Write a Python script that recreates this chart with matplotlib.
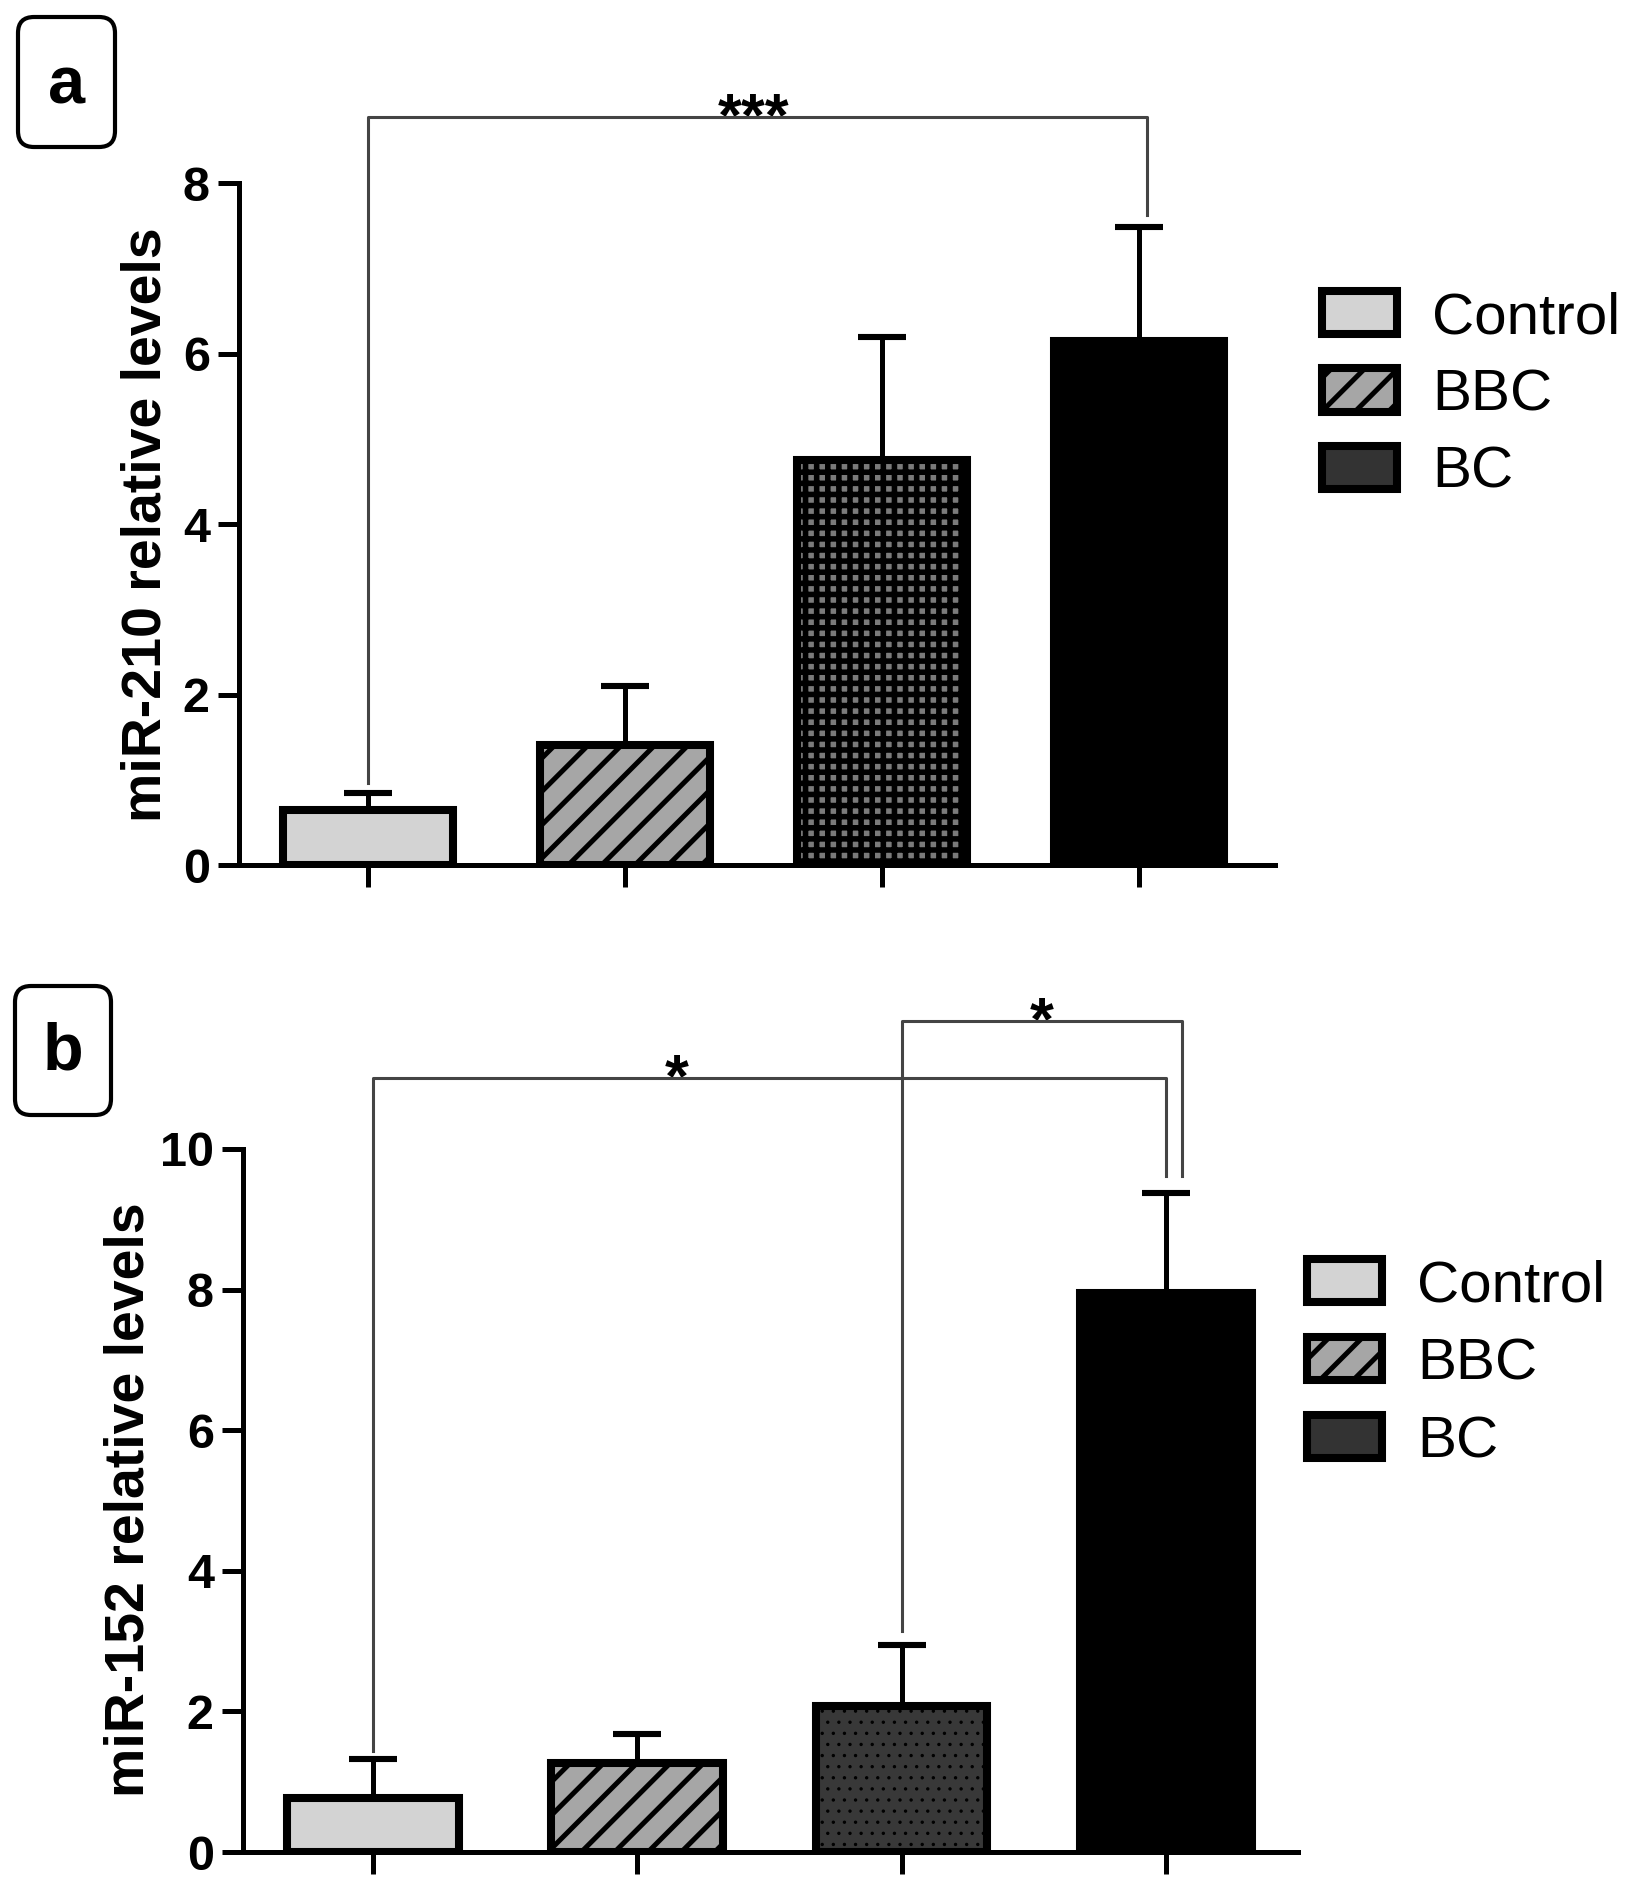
import matplotlib
matplotlib.use('Agg')
import matplotlib.pyplot as plt
from matplotlib.patches import Patch, FancyBboxPatch
import numpy as np

plt.rcParams['font.family'] = ['Liberation Sans', 'DejaVu Sans']
plt.rcParams['hatch.linewidth'] = 1.8

# ---------------- data ----------------
bar_groups = ['Control', 'BBC', 'Group 3', 'BC']
legend_labels = ['Control', 'BBC', 'BC']

mir210_mean = [0.64, 1.41, 4.75, 6.15]
mir210_sd = [0.21, 0.69, 1.44, 1.33]
mir152_mean = [0.77, 1.27, 2.08, 7.95]
mir152_sd = [0.56, 0.41, 0.86, 1.43]

yticks_a = [0, 2, 4, 6, 8]
yticks_b = [0, 2, 4, 6, 8, 10]

ylabel_a = 'miR-210 relative levels'
ylabel_b = 'miR-152 relative levels'

# significance brackets: (left x, left leg bottom, right x, right leg bottom, bracket y, star x, text)
sig_a = [(0, 0.96, 3.03, 7.63, 8.77, 1.5, '***')]
sig_b = [(0, 1.44, 3.0, 9.62, 11.01, 1.15, '*'),
         (2, 3.14, 3.06, 9.62, 11.82, 2.53, '*')]

# ---------------- styles ----------------
faces_a = ['#d3d3d3', '#a6a6a6', '#7a7a7a', '#000000']
hatches_a = [None, '//', '+++', None]
hatch_lws_a = [1.8, 1.8, 2.0, 1.8]
faces_b = ['#d3d3d3', '#a6a6a6', '#383838', '#000000']
hatches_b = [None, '//', '...', None]
hatch_lws_b = [1.8, 1.8, 0.4, 1.8]
legend_faces = ['#d3d3d3', '#a6a6a6', '#333333']
legend_hatches = [None, '//', None]

W, H = 1640, 1882
fig = plt.figure(figsize=(W / 200, H / 200), dpi=200)


def rect(l, r, t, b):
    return [l / W, 1 - b / H, (r - l) / W, (b - t) / H]


ov = fig.add_axes([0, 0, 1, 1], zorder=-1)
ov.set_xlim(0, W)
ov.set_ylim(H, 0)
ov.axis('off')


def panel(ax, means, sds, faces, hatches, hatch_lws, width, ytop, yticks, xlim,
          sigs, ylabel, ylabel_xy, leg_anchor, leg_spacing):
    x = np.arange(len(means))
    bars = ax.bar(x, means, width=width, color=faces, edgecolor='black',
                  linewidth=2.9, zorder=3)
    for b, h, hl in zip(bars, hatches, hatch_lws):
        if h:
            b.set_hatch(h)
            if hasattr(b, 'set_hatch_linewidth'):
                b.set_hatch_linewidth(hl)
    ax.errorbar(x, means, yerr=[np.zeros(len(sds)), sds], fmt='none',
                ecolor='black', elinewidth=1.8, capsize=8.5, capthick=2.2,
                zorder=2)
    ax.set_ylim(0, ytop)
    ax.set_xlim(*xlim)
    ax.set_yticks(yticks)
    ax.set_xticks(x)
    ax.set_xticklabels([])
    for s in ['top', 'right']:
        ax.spines[s].set_visible(False)
    for s in ['left', 'bottom']:
        ax.spines[s].set_linewidth(1.8)
    ax.tick_params(axis='y', length=7.6, width=1.8, pad=2.9, labelsize=17.5)
    ax.tick_params(axis='x', length=8, width=1.8)
    for lab in ax.get_yticklabels():
        lab.set_fontweight('bold')
    for (x0, y0, x1, y1, yb, xs, txt) in sigs:
        ax.plot([x0, x0, x1, x1], [y0, yb, yb, y1], color='#444444', lw=1.1,
                clip_on=False, zorder=4)
        ax.annotate(txt, xy=(xs, yb), xytext=(0, -0.8), textcoords='offset points',
                    ha='center', va='center', fontsize=22, fontweight='bold',
                    annotation_clip=False)
    fig.text(ylabel_xy[0] / W, 1 - ylabel_xy[1] / H, ylabel, rotation=90,
             ha='center', va='center', fontsize=20, fontweight='bold')
    handles = [Patch(facecolor=f, edgecolor='black', linewidth=2.9, hatch=h)
               for f, h in zip(legend_faces, legend_hatches)]
    fig.legend(handles, legend_labels, loc='upper left',
               bbox_to_anchor=(leg_anchor[0] / W, 1 - leg_anchor[1] / H),
               bbox_transform=fig.transFigure, frameon=False, borderpad=0,
               borderaxespad=0, handlelength=1.29, handleheight=0.77,
               handletextpad=0.6, labelspacing=leg_spacing, fontsize=21)


ax_a = fig.add_axes(rect(239, 1275, 183, 865))
panel(ax_a, mir210_mean, mir210_sd, faces_a, hatches_a, hatch_lws_a, 0.66, 8,
      yticks_a, (-0.502, 3.529), sig_a, ylabel_a, (147, 525), (1322, 291), 0.40)

ax_b = fig.add_axes(rect(243, 1298, 1149, 1852))
panel(ax_b, mir152_mean, mir152_sd, faces_b, hatches_b, hatch_lws_b, 0.65, 10,
      yticks_b, (-0.492, 3.50), sig_b, ylabel_b, (130, 1500), (1307, 1259), 0.41)

# panel letters in rounded boxes
for (x0, y0, w, h, tx, ty, letter) in [(18, 17, 97, 130, 67, 86, 'a'),
                                       (15, 986, 96, 129, 63, 1052, 'b')]:
    ov.add_patch(FancyBboxPatch((x0, y0), w, h,
                                boxstyle='round,pad=0,rounding_size=16',
                                linewidth=1.5, edgecolor='black',
                                facecolor='white'))
    ov.text(tx, ty, letter, ha='center', va='center', fontsize=24,
            fontweight='bold')

fig.savefig('out.png', dpi=200)
